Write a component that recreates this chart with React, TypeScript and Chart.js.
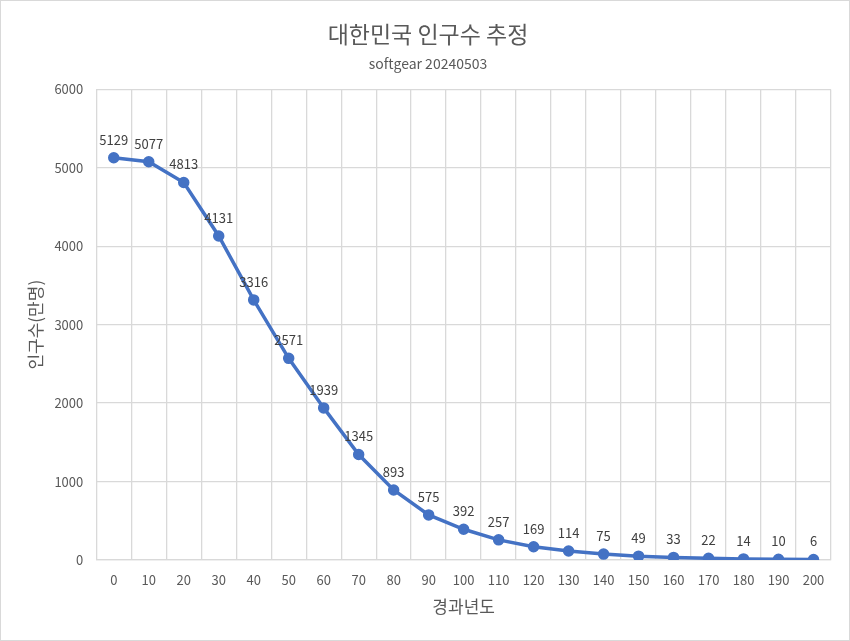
import React, { useEffect, useRef } from "react";
import { Chart, registerables } from "chart.js";

Chart.register(...registerables);

const years: string[] = ["0","10","20","30","40","50","60","70","80","90","100","110","120","130","140","150","160","170","180","190","200"];
const population: number[] = [5129,5077,4813,4131,3316,2571,1939,1345,893,575,392,257,169,114,75,49,33,22,14,10,6];

const TITLE = "대한민국 인구수 추정";
const SUBTITLE = "softgear 20240503";
const X_TITLE = "경과년도";
const Y_TITLE = "인구수(만명)";

const FONT = "'Segoe UI', 'Noto Sans CJK KR', 'Noto Sans', sans-serif";
const TEXT = "#595959";
const GRID = "#d9d9d9";
const LINE = "#4472C4";

const labelPlugin = {
  id: "pointLabels",
  afterDatasetsDraw(chart: any) {
    const ctx = chart.ctx;
    const meta = chart.getDatasetMeta(0);
    const data = chart.data.datasets[0].data as number[];
    ctx.save();
    ctx.font = `13px ${FONT}`;
    ctx.fillStyle = "#404040";
    ctx.textAlign = "center";
    ctx.textBaseline = "middle";
    meta.data.forEach((pt: any, i: number) => {
      ctx.fillText(String(data[i]), pt.x, pt.y - 18);
    });
    ctx.restore();
  },
};

export default function App() {
  const ref = useRef<HTMLCanvasElement | null>(null);
  useEffect(() => {
    document.body.style.margin = "0";
    if (!ref.current) return;
    const chart = new Chart(ref.current, {
      type: "line",
      data: {
        labels: years,
        datasets: [
          {
            data: population,
            borderColor: LINE,
            backgroundColor: LINE,
            borderWidth: 3.5,
            pointRadius: 4,
            pointHoverRadius: 4,
            pointBackgroundColor: LINE,
            pointBorderColor: LINE,
            tension: 0,
          },
        ],
      },
      options: {
        animation: false,
        responsive: true,
        maintainAspectRatio: false,
        layout: { padding: { left: 24, right: 18, top: 12, bottom: 23 } },
        plugins: {
          legend: { display: false },
          tooltip: { enabled: false },
          title: {
            display: true,
            text: TITLE,
            color: TEXT,
            font: { family: FONT, size: 23, weight: "normal" },
            padding: { top: 7, bottom: 3 },
          },
          subtitle: {
            display: true,
            text: SUBTITLE,
            color: TEXT,
            font: { family: FONT, size: 14, weight: "normal" },
            padding: { top: 5, bottom: 17 },
          },
        },
        scales: {
          x: {
            offset: true,
            grid: { color: GRID, offset: true, drawTicks: false, lineWidth: 1.3 },
            border: { color: GRID, width: 1.3 },
            ticks: { color: TEXT, font: { family: FONT, size: 13 }, padding: 12, maxRotation: 0, autoSkip: false },
            title: {
              display: true,
              text: X_TITLE,
              color: TEXT,
              font: { family: FONT, size: 17 },
              padding: { top: -3, bottom: 0 },
            },
          },
          y: {
            min: 0,
            max: 6000,
            grid: { color: GRID, drawTicks: false, lineWidth: 1.3 },
            border: { display: false },
            ticks: {
              stepSize: 1000,
              color: TEXT,
              font: { family: FONT, size: 13 },
              padding: 13,
              callback: (v: any) => String(v),
            },
            title: {
              display: true,
              text: Y_TITLE,
              color: TEXT,
              font: { family: FONT, size: 17 },
              padding: { top: 0, bottom: -4 },
            },
          },
        },
      },
      plugins: [labelPlugin],
    });
    return () => chart.destroy();
  }, []);

  return (
    <div
      style={{
        width: 850,
        height: 641,
        boxSizing: "border-box",
        border: `1.5px solid ${GRID}`,
        background: "#fff",
        position: "relative",
      }}
    >
      <canvas ref={ref} />
    </div>
  );
}
